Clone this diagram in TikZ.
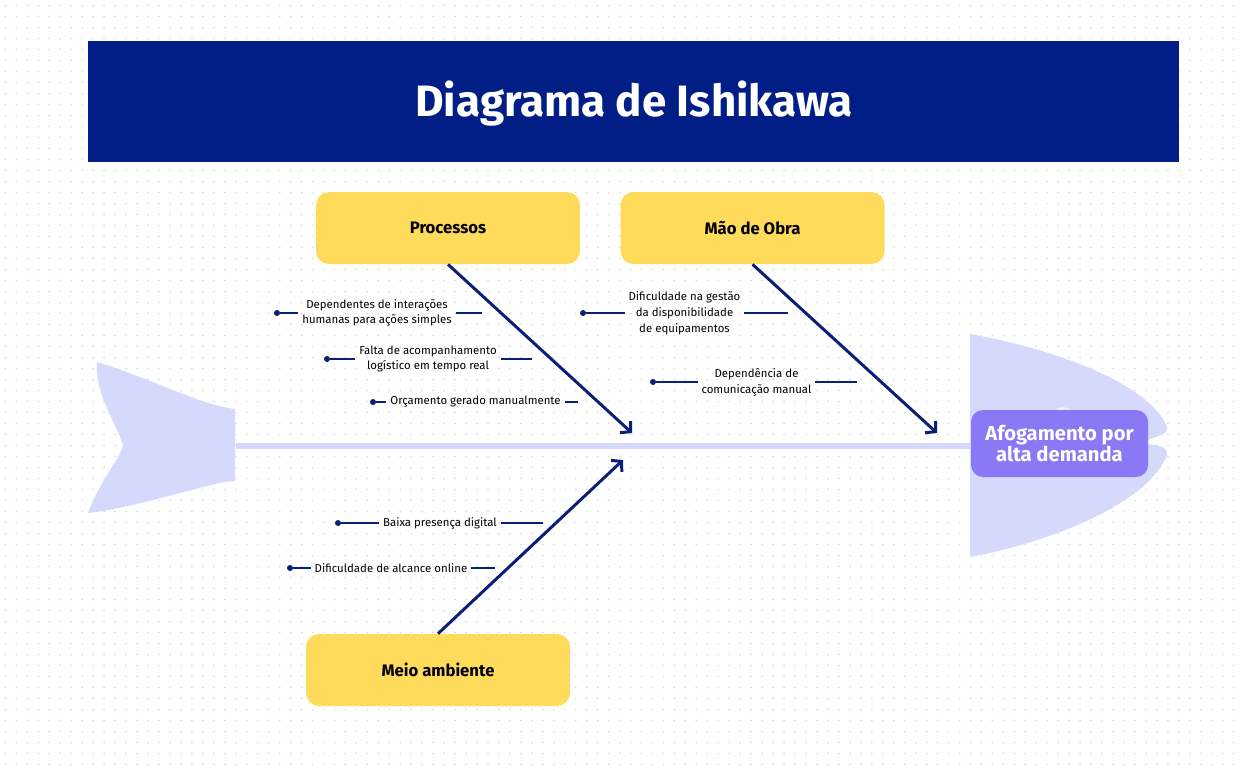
\documentclass[tikz,border=0pt]{standalone}
\usepackage{fontspec}
\setmainfont{Fira Sans}
\setsansfont{Fira Sans}
\usetikzlibrary{positioning, arrows.meta, calc}

\definecolor{bannerblue}{RGB}{0,30,133}
\definecolor{boxyellow}{RGB}{255,219,92}
\definecolor{fishblue}{RGB}{213,217,251}
\definecolor{fisheye}{RGB}{236,238,253}
\definecolor{headpurple}{RGB}{139,120,245}
\definecolor{bonenavy}{RGB}{10,32,120}

\begin{document}
\begin{tikzpicture}[
		font=\sffamily,
		% Dotted canvas
		griddot/.style={black!14, line width=1.1pt, line cap=round, dash pattern=on 0pt off 6.24pt},
		% Title banner
		banner/.style={fill=bannerblue, minimum width=21.82cm, minimum height=2.42cm, inner sep=0pt},
		mainTitle/.style={font=\bfseries\fontsize{25}{30}\selectfont, text=white},
		% Category boxes and effect box
		catbox/.style={fill=boxyellow, rounded corners=0.26cm, minimum width=5.28cm, minimum height=1.44cm, font=\bfseries\fontsize{9.5}{11}\selectfont},
		effect/.style={fill=headpurple, rounded corners=0.24cm, minimum width=3.54cm, minimum height=1.34cm, align=center, text=white, font=\bfseries\fontsize{11.5}{11.5}\selectfont},
		% Fish body
		fish/.style={fill=fishblue, draw=none},
		spine/.style={draw=fishblue, line width=0.13cm},
		bone/.style={draw=bonenavy, line width=1.7pt, -{Straight Barb[length=4pt, width=9pt]}},
		% Causes
		cause/.style={align=center, inner xsep=2pt, inner ysep=0pt, font=\fontsize{6.5}{9}\selectfont},
		cdot/.style={circle, fill=bonenavy, inner sep=0pt, minimum size=0.12cm},
		cline/.style={draw=bonenavy, line width=0.75pt}
		]
		
		% ==============================================================================
		% CANVAS
		% ==============================================================================
		\fill[white] (0,0) rectangle (24.86,-15.40);
		\useasboundingbox (0,0) rectangle (24.86,-15.40);
		\foreach \y in {0.11,0.33,...,15.40} {
			\draw[griddot] (0.11,-\y) -- (24.86,-\y);
		}
		
		% --- Title ---
		\node[banner] (banner) at (12.67,-2.03) {};
		\node[mainTitle] (title) at (12.68,-2.08) {Diagrama de Ishikawa};
		
		% ==============================================================================
		% FISH: TAIL, SPINE, HEAD
		% ==============================================================================
		\fill[fish] (1.94,-7.24) .. controls (3.0,-7.56) and (4.0,-8.1) .. (4.7,-8.18)
			-- (4.7,-9.62) -- (4.46,-9.64)
			.. controls (3.4,-9.9) and (2.4,-10.2) .. (1.76,-10.26)
			.. controls (2.0,-9.6) and (2.4,-9.2) .. (2.46,-8.9)
			.. controls (2.3,-8.4) and (1.9,-7.9) .. (1.94,-7.24) -- cycle;
		
		\coordinate (spine_start) at (4.72,-8.92);
		\coordinate (spine_end) at (19.5,-8.92);
		\draw[spine] (spine_start) -- (spine_end);
		
		\fill[fish] (19.4,-6.68) .. controls (21.2,-7.0) and (23.0,-7.7) .. (23.34,-8.54)
			.. controls (23.4,-8.72) and (23.0,-8.72) .. (22.9,-8.86)
			.. controls (23.04,-8.92) and (23.36,-8.88) .. (23.34,-9.10)
			.. controls (23.0,-10.0) and (21.2,-10.8) .. (19.4,-11.14) -- cycle;
		\fill[fisheye] (21.26,-8.38) circle (0.24);
		
		\node[effect] (head) at (21.19,-8.87) {Afogamento por\\alta demanda};
		
		% ==============================================================================
		% CATEGORIES AND BONES
		% ==============================================================================
		\node[catbox] (box_proc) at (8.96,-4.56) {Processos};
		\node[catbox] (box_mao) at (15.05,-4.56) {Mão de Obra};
		\node[catbox] (box_meio) at (8.76,-13.40) {Meio ambiente};
		
		\coordinate (tip_proc) at (12.64,-8.66);
		\coordinate (tip_mao) at (18.74,-8.66);
		\coordinate (tip_meio) at (12.46,-9.20);
		
		\draw[bone] (box_proc.south) -- (tip_proc);
		\draw[bone] (box_mao.south) -- (tip_mao);
		\draw[bone] (box_meio.north) -- (tip_meio);
		
		% --- Processos ---
		\node[cause] (c_proc1) at (7.54,-6.26) {Dependentes de interações\\humanas para ações simples};
		\node[cdot] (d_proc1) at (5.54,-6.26) {};
		\coordinate (e_proc1) at (9.64,-6.26);
		\node[cause] (c_proc2) at (8.56,-7.18) {Falta de acompanhamento\\logístico em tempo real};
		\node[cdot] (d_proc2) at (6.54,-7.18) {};
		\coordinate (e_proc2) at (10.64,-7.18);
		\node[cause] (c_proc3) at (9.51,-8.04) {Orçamento gerado manualmente};
		\node[cdot] (d_proc3) at (7.46,-8.04) {};
		\coordinate (e_proc3) at (11.56,-8.04);
		
		% --- Mão de Obra ---
		\node[cause] (c_mao1) at (13.69,-6.26) {Dificuldade na gestão\\da disponibilidade\\de equipamentos};
		\node[cdot] (d_mao1) at (11.66,-6.26) {};
		\coordinate (e_mao1) at (15.76,-6.26);
		\node[cause] (c_mao2) at (15.13,-7.64) {Dependência de\\comunicação manual};
		\node[cdot] (d_mao2) at (13.06,-7.64) {};
		\coordinate (e_mao2) at (17.14,-7.64);
		
		% --- Meio ambiente ---
		\node[cause] (c_meio1) at (8.80,-10.46) {Baixa presença digital};
		\node[cdot] (d_meio1) at (6.76,-10.46) {};
		\coordinate (e_meio1) at (10.86,-10.46);
		\node[cause] (c_meio2) at (7.82,-11.36) {Dificuldade de alcance online};
		\node[cdot] (d_meio2) at (5.80,-11.36) {};
		\coordinate (e_meio2) at (9.90,-11.36);
		
		\foreach \c in {proc1, proc2, proc3, mao1, mao2, meio1, meio2} {
			\draw[cline] (d_\c) -- (c_\c.west);
			\draw[cline] (c_\c.east) -- (e_\c);
		}
		
	\end{tikzpicture}
\end{document}
